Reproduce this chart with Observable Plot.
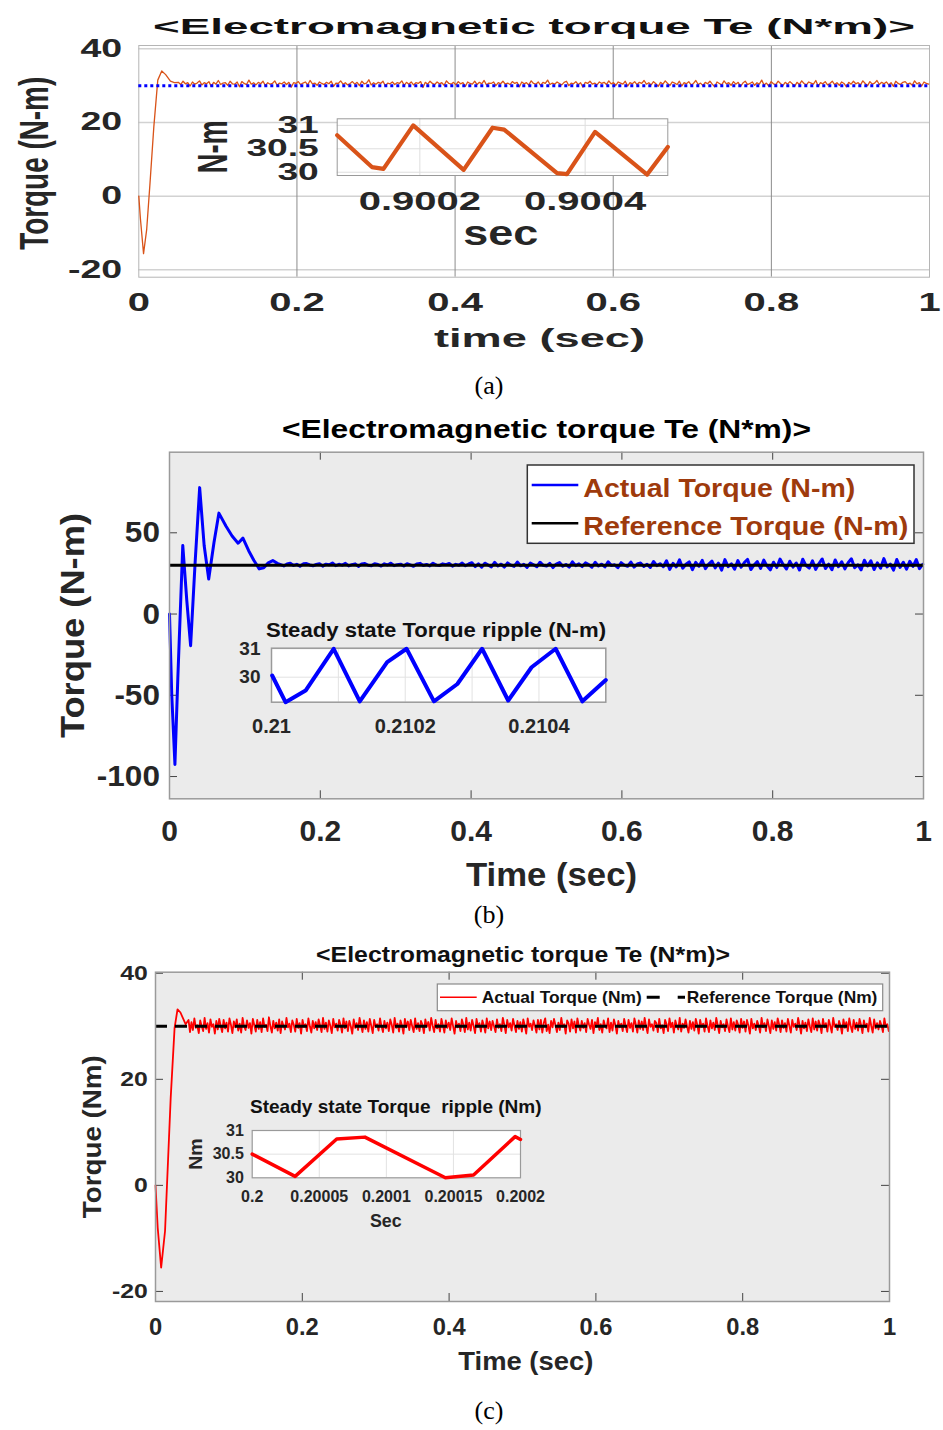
<!DOCTYPE html>
<html><head><meta charset="utf-8">
<script src="https://cdn.jsdelivr.net/npm/d3@7"></script>
<script src="https://cdn.jsdelivr.net/npm/@observablehq/plot@0.6"></script>
<style>
html,body{margin:0;padding:0;background:#fff;}
#page{position:relative;width:943px;height:1430px;overflow:hidden;background:#fff;}
</style></head><body><div id="page"></div>
<script>
// ================= DATA =================
const xTicksMain = [0, 0.2, 0.4, 0.6, 0.8, 1];
const refTorque = 30;

// ---- Panel (a) ----
const yTicksA = [-20, 0, 20, 40];
const transA_t = [0, 0.002, 0.006, 0.010, 0.014, 0.019, 0.024, 0.029, 0.034, 0.040, 0.045];
const transA_v = [0, -6, -15.6, -9, 3, 18.8, 31.5, 34.0, 33.0, 31.2, 30.8];
const steadyA_span = [0.05, 0.999];
const steadyA_v = [
30.9,30.3,31.2,30.5,30.8,29.9,31.0,30.4,30.7,31.3,30.2,30.8,30.5,31.1,29.8,30.9,30.4,31.4,30.3,30.7,
30.8,30.1,31.2,30.5,30.4,31.0,29.7,31.1,30.6,30.3,31.5,30.4,30.8,30.2,30.9,30.5,31.2,30.0,30.8,30.4,
30.6,31.3,30.1,30.7,30.5,31.0,30.3,30.9,29.6,30.8,30.6,31.1,30.3,30.7,31.0,30.2,31.4,30.5,30.7,30.1,
31.0,30.6,30.3,30.9,30.5,31.2,29.8,30.7,30.6,31.3,30.4,30.8,30.2,30.6,31.1,30.4,30.9,30.0,31.2,30.5,
30.7,31.6,30.2,30.8,30.4,30.9,30.6,31.2,29.9,30.7,30.5,31.0,30.3,30.8,30.6,31.3,30.1,30.9,30.4,31.0,
30.2,30.8,30.6,31.1,29.5,30.9,30.4,31.2,30.6,30.3,31.0,30.5,30.8,30.1,31.3,30.6,30.4,30.9,30.2,31.1,
30.5,30.8,29.8,31.0,30.6,30.4,31.2,30.3,30.9,30.5,31.4,30.2,30.7,30.6,31.0,30.0,30.8,30.5,31.2,30.4,
30.7,30.3,31.1,30.6,30.9,29.7,31.0,30.5,30.8,30.2,31.3,30.6,30.4,31.0,30.1,30.9,30.6,31.5,30.3,30.7,
30.4,31.0,30.6,30.2,30.9,31.2,30.0,30.7,30.5,31.1,30.3,30.8,29.6,30.9,30.6,31.2,30.4,30.7,30.2,31.0,
30.6,30.9,30.3,31.3,30.5,30.8,30.1,31.0,30.7,30.4,31.2,29.9,30.8,30.5,31.1,30.3,30.9,30.6,31.4,30.4,
30.8,30.2,31.1,30.5,29.8,30.9,30.4,31.3,30.6,30.1,31.0,30.7,30.3,31.2,29.9,30.8,30.5,31.1,30.2,30.6,
31.4,30.3,30.7,30.0,30.9,30.5,31.2,30.4,29.7,31.0,30.6,30.2,31.3,30.5,30.8,30.1,31.1,30.4,30.9,29.8,
30.7,31.2,30.3,30.6,31.0,30.1,30.8,30.4,31.5,30.2,30.7,29.9,31.1,30.5,30.3,31.2,30.6,30.0,30.9,30.4,
31.1,30.5,29.8,30.9,30.3,31.3,30.6,30.2,31.0,30.7,30.4,31.4,29.9,30.8,30.5,31.1,30.2,30.6,31.2,30.3,
30.8,30.1,31.0,30.6,29.7,30.9,30.4,31.2,30.5,30.8,30.2,31.3,30.6,30.0,31.1,30.4,30.7,31.4,30.3,30.9,
30.5,31.0,30.2,30.8,29.8,31.2,30.6,30.3,30.9,31.1,30.4,30.7,30.1,31.3,30.5,30.8,29.9,31.0,30.6,30.4];
const insetA_t = [0.9001,0.900142,0.900156,0.900192,0.900253,0.900288,0.900302,0.900366,0.900378,0.900412,0.900475,0.9005];
const insetA_v = [30.79,30.11,30.07,31.0,30.05,30.95,30.91,29.98,29.96,30.86,29.95,30.54];
const insetA_xTicks = [0.9002, 0.9004];
const insetA_yTicks = [30, 30.5, 31];

// ---- Panel (b) ----
const yTicksB = [-100, -50, 0, 50];
const transB_t = [0,0.003,0.0072,0.011,0.0176,0.023,0.028,0.034,0.040,0.046,0.052,0.059,0.0655,0.075,0.083,0.091,0.0974,0.105,0.112,0.119,0.125,0.131,0.137];
const transB_v = [0,-50,-92.6,-40,42.2,8,-19.5,32,77.8,42,21.6,44,62.1,54,48,43.6,46.7,39,33,27.8,28.5,31.5,32.9];
const steadyB_span = [0.143, 0.999];
const steadyB_v = [
31.2,30.4,29.6,30.8,31.3,29.9,30.6,29.4,30.9,31.1,30.2,29.7,30.5,31.0,29.5,30.7,30.3,31.4,29.8,30.6,
30.1,31.2,29.6,30.4,30.9,29.3,30.8,31.1,30.0,29.7,31.0,30.5,29.5,30.9,30.2,31.3,29.8,30.4,30.7,29.6,
31.0,30.3,29.4,30.8,31.2,29.9,30.5,29.6,31.3,30.1,29.8,30.9,30.4,31.1,29.5,30.6,30.0,31.4,29.7,30.8,
31.6,29.2,30.9,28.8,31.3,30.2,29.0,31.8,29.6,30.7,28.9,31.5,30.1,29.3,32.0,29.7,30.6,28.7,31.4,30.3,
29.1,31.9,30.0,29.5,31.2,28.6,30.8,31.7,29.4,30.5,28.9,32.1,29.8,30.9,29.2,31.5,30.4,28.8,31.8,29.6,
30.7,29.0,32.2,29.9,30.3,28.5,31.6,30.1,29.4,32.0,28.9,30.8,31.4,29.3,30.6,28.7,32.3,29.8,31.0,29.1,
32.8,27.5,31.2,29.0,33.4,28.2,30.6,32.1,27.3,31.8,29.4,33.0,27.9,30.8,32.6,28.4,31.3,27.0,33.5,29.2,
30.9,27.6,32.9,28.8,31.7,33.6,27.4,30.2,32.3,28.1,33.2,29.5,27.2,31.9,28.6,33.8,30.4,27.7,32.5,28.9,
31.4,27.1,33.7,29.8,28.3,32.7,27.5,31.1,33.9,28.0,30.7,27.3,33.3,29.1,32.2,27.8,31.6,34.0,28.5,30.3,
27.2,33.1,29.6,32.8,27.4,31.5,28.2,34.1,29.0,30.8,27.0,33.6,28.7,31.9,27.6,32.4,29.3,33.5,27.9,30.6];
const insetB_t = [0.210001,0.210021,0.210051,0.210093,0.210132,0.210173,0.210202,0.210243,0.210278,0.210315,0.210354,0.210389,0.210425,0.210465,0.2105];
const insetB_v = [30.06,29.12,29.53,31.0,29.15,30.53,31.0,29.15,29.76,31.0,29.18,30.35,31.0,29.15,29.9];
const insetB_xTicks = [0.21, 0.2102, 0.2104];
const insetB_grid = [0.2101, 0.2102, 0.2103, 0.2104];
const insetB_yTicks = [30, 31];

// ---- Panel (c) ----
const yTicksC = [-20, 0, 20, 40];
const transC_t = [0, 0.003, 0.0077, 0.013, 0.0207, 0.026, 0.030, 0.034, 0.041];
const transC_v = [0, -8, -15.5, -8.6, 16.5, 29.7, 33.2, 32.6, 30.4];
const steadyC_span = [0.045, 0.999];
const steadyC_v = [
31.2,28.9,30.8,29.3,31.5,29.7,30.2,28.7,31.1,30.0,29.1,31.6,29.5,30.6,28.8,31.3,29.9,30.4,28.6,31.0,
29.4,31.4,30.1,28.9,31.2,29.6,30.7,29.0,31.5,30.3,28.7,30.9,29.8,31.3,29.2,30.5,28.8,31.6,30.0,29.3,
31.1,29.7,30.6,28.6,31.4,30.2,29.0,31.2,29.5,30.8,28.9,31.5,29.9,30.3,29.1,31.7,30.0,28.8,31.0,29.6,
30.7,29.2,31.3,28.7,30.9,30.1,29.4,31.6,29.8,30.5,28.9,31.1,30.3,29.0,31.4,29.7,30.6,28.6,31.2,29.9,
30.4,29.1,31.5,30.0,28.8,31.0,29.6,30.8,29.3,31.3,30.2,28.9,31.6,29.5,30.7,29.0,31.1,30.1,28.7,31.4,
29.8,30.5,29.2,31.2,30.3,28.8,31.5,29.6,30.9,29.1,31.0,30.0,28.6,31.3,29.7,30.6,29.3,31.6,30.2,28.9,
31.1,29.5,30.8,29.0,31.4,30.1,28.7,31.2,29.9,30.4,29.2,31.5,30.0,28.9,31.0,29.6,30.7,29.1,31.3,30.3,
28.8,31.6,29.7,30.5,29.0,31.1,30.2,28.6,31.4,29.8,30.9,29.3,31.2,30.0,28.9,31.5,29.5,30.6,29.1,31.0,
30.3,28.7,31.3,29.9,30.8,29.2,31.6,30.1,28.9,31.2,29.6,30.4,29.0,31.4,30.2,28.8,31.1,29.7,30.7,29.3,
31.5,30.0,28.6,31.0,29.8,30.5,29.1,31.3,30.3,28.9,31.6,29.4,30.7,29.2,31.2,30.1,28.7,31.4,29.9,30.6,
29.0,31.1,30.2,28.8,31.5,29.6,30.9,29.3,31.0,30.0,28.9,31.3,29.7,30.4,29.1,31.6,30.3,28.7,31.2,29.8,
30.6,29.2,31.4,30.1,28.9,31.0,29.5,30.8,29.0,31.3,30.2,28.6,31.5,29.9,30.5,29.3,31.1,30.0,28.8,31.2,
29.4,31.2,28.8,30.6,31.5,29.1,30.3,28.7,31.0,29.8,31.4,30.2,28.9,30.7,29.3,31.6,29.9,30.4,28.6,31.1,
30.5,29.0,31.3,29.6,30.9,28.8,31.5,30.1,29.2,31.0,29.7,30.6,28.9,31.4,30.3,29.5,31.2,28.7,30.8,29.9,
31.6,29.3,30.4,28.8,31.1,30.0,29.6,31.5,28.9,30.7,29.2,31.3,30.2,28.6,31.0,29.8,30.5,29.1,31.4,30.1,
28.9,31.2,29.7,30.6,29.0,31.5,30.3,28.8,31.1,29.5,30.9,29.3,31.6,30.0,28.7,31.3,29.9,30.4,29.2,31.0,
30.6,28.9,31.4,29.6,30.2,28.7,31.2,30.4,29.1,31.5,29.8,30.7,28.8,31.1,30.1,29.4,31.6,29.0,30.5,29.7,
31.3,30.0,28.8,31.0,29.5,30.8,29.2,31.4,30.3,28.6,31.2,29.9,30.5,29.0,31.5,30.1,28.9,31.1,29.6,30.7,
29.3,31.6,30.2,28.7,31.0,29.8,30.4,29.1,31.3,30.0,28.9,31.5,29.4,30.8,29.2,31.1,30.3,28.8,31.4,29.7,
30.9,29.0,31.2,30.1,28.6,31.4,29.6,30.5,29.3,31.0,30.2,28.8,31.6,29.8,30.6,29.1,31.3,30.0,28.7,31.1,
29.5,30.8,29.2,31.5,30.4,28.9,31.1,29.7,30.6,29.0,31.4,30.1,28.8,31.2,29.9,30.5,29.3,31.6,30.2,28.6,
31.0,29.6,30.7,29.1,31.3,30.0,28.9,31.5,29.4,30.9,29.2,31.1,30.3,28.7,31.4,29.8,30.6,29.0,31.2,30.1,
28.8,31.6,29.9,30.4,29.3,31.0,30.2,28.6,31.3,29.7,30.8,29.1,31.5,30.0,28.9,31.2,29.5,30.7,29.2,31.4,
30.3,28.7,31.1,29.8,30.5,29.0,31.6,30.1,28.8,31.3,29.6,30.6,29.4,31.0,30.2,28.9,31.5,29.9,30.4,29.1];
const insetC_t = [0.2, 0.200032, 0.200063, 0.200084, 0.200144, 0.200165, 0.200196, 0.2002];
const insetC_v = [30.5, 30.03, 30.82, 30.86, 30.0, 30.06, 30.87, 30.81];
const insetC_xTicks = [0.2, 0.20005, 0.2001, 0.20015, 0.2002];
const insetC_grid = [0.20005, 0.2001, 0.20015];
const insetC_yTicks = [30, 30.5, 31];

// ================= HELPERS =================
const page = document.getElementById("page");
const FONT = "'Liberation Sans', Arial, sans-serif";
function series(tT, vT, span, vS) {
  const out = tT.map((t, i) => ({t, v: vT[i]}));
  const step = (span[1] - span[0]) / (vS.length - 1);
  vS.forEach((v, i) => out.push({t: span[0] + i * step, v}));
  return out;
}
function pairs(ts, vs) { return ts.map((t, i) => ({t, v: vs[i]})); }
function place(el, left, top) {
  el.style.position = "absolute"; el.style.left = left + "px"; el.style.top = top + "px";
  page.appendChild(el); return el;
}
function stretch(t, f) {
  if (f === 1) return;
  const w = t.getComputedTextLength();
  t.setAttribute("textLength", w * f);
  t.setAttribute("lengthAdjust", "spacingAndGlyphs");
}
function stretchTicks(svg, fx, fy) {
  svg.querySelectorAll('g[aria-label^="x-axis"] text').forEach(t => stretch(t, fx));
  svg.querySelectorAll('g[aria-label^="y-axis"] text').forEach(t => stretch(t, fy));
}
const baseStyle = (size) => ({background: "transparent", fontFamily: FONT, fontWeight: "bold", fontSize: size + "px", color: "#262626", overflow: "visible"});
const fmt = d => String(d);

// ================= PANEL (a) =================
const dataA = series(transA_t, transA_v, steadyA_span, steadyA_v);
const plotA = Plot.plot({
  width: 943, height: 330, marginLeft: 138.3, marginRight: 14, marginTop: 45, marginBottom: 53.3,
  x: {domain: [0, 1]}, y: {domain: [-22, 40.9]},
  style: baseStyle(25),
  marks: [
    Plot.ruleY(yTicksA, {stroke: "#d2d2d2", strokeWidth: 1.5}),
    Plot.ruleX(xTicksMain.slice(1, -1), {stroke: "#8c8c8c", strokeWidth: 1}),
    Plot.frame({stroke: "#b5b5b5"}),
    Plot.line(dataA, {x: "t", y: "v", stroke: "#D95319", strokeWidth: 1.3}),
    Plot.ruleY([refTorque], {stroke: "#0000ff", strokeWidth: 3, strokeDasharray: "3,3"}),
    Plot.axisX({ticks: xTicksMain, tickFormat: fmt, tickSize: 0, tickPadding: 16.5, label: null, fontSize: 25}),
    Plot.axisY({ticks: yTicksA, tickFormat: fmt, tickSize: 0, tickPadding: 16.6, label: null, fontSize: 25})
  ]
});
place(plotA, 0, 0); stretchTicks(plotA, 1.6, 1.5);

const insetA = Plot.plot({
  width: 460, height: 145, marginLeft: 106.7, marginRight: 22.7, marginTop: 8.3, marginBottom: 80,
  x: {domain: [0.9001, 0.9005]}, y: {domain: [29.93, 31.14]},
  style: baseStyle(24),
  marks: [
    Plot.frame({fill: "white"}),
    Plot.ruleX(insetA_xTicks, {stroke: "#dedede"}),
    Plot.ruleY(insetA_yTicks, {stroke: "#dedede"}),
    Plot.frame({stroke: "#9a9a9a"}),
    Plot.line(pairs(insetA_t, insetA_v), {x: "t", y: "v", stroke: "#D95319", strokeWidth: 4.2}),
    Plot.axisX({ticks: insetA_xTicks, tickFormat: fmt, tickSize: 0, tickPadding: 17.2, label: null, fontSize: 25}),
    Plot.axisY({ticks: insetA_yTicks, tickFormat: fmt, tickSize: 0, tickPadding: 18.4, label: null, fontSize: 24})
  ]
});
place(insetA, 230, 110); stretchTicks(insetA, 1.6, 1.55);

// ================= PANEL (b) =================
const dataB = series(transB_t, transB_v, steadyB_span, steadyB_v);
const fwB = 943 - 169 - 20, fhB = 460 - 51.7 - 61.7;
const plotB = Plot.plot({
  width: 943, height: 460, marginLeft: 169, marginRight: 20, marginTop: 51.7, marginBottom: 61.7,
  x: {domain: [0, 1]}, y: {domain: [-113.7, 99.6]},
  style: baseStyle(30),
  marks: [
    Plot.frame({fill: "#ebebeb"}),
    Plot.ruleX(xTicksMain.slice(1, -1), {stroke: "#444", insetBottom: fhB - 8}),
    Plot.ruleX(xTicksMain.slice(1, -1), {stroke: "#444", insetTop: fhB - 8}),
    Plot.ruleY(yTicksB, {stroke: "#444", insetRight: fwB - 8}),
    Plot.ruleY(yTicksB, {stroke: "#444", insetLeft: fwB - 8}),
    Plot.line(dataB, {x: "t", y: "v", stroke: "#0000ff", strokeWidth: 3}),
    Plot.ruleY([refTorque], {stroke: "#000", strokeWidth: 3}),
    Plot.frame({stroke: "#9a9a9a", strokeWidth: 1.5}),
    Plot.axisX({ticks: xTicksMain, tickFormat: fmt, tickSize: 0, tickPadding: 21, label: null, fontSize: 30}),
    Plot.axisY({ticks: yTicksB, tickFormat: fmt, tickSize: 0, tickPadding: 9.6, label: null, fontSize: 30})
  ]
});
place(plotB, 0, 400); stretchTicks(plotB, 1.0, 1.05);

const insetB = Plot.plot({
  width: 400, height: 130, marginLeft: 41, marginRight: 24.7, marginTop: 37.7, marginBottom: 38.3,
  x: {domain: [0.21, 0.2105]}, y: {domain: [29.12, 31.02]},
  style: baseStyle(20),
  marks: [
    Plot.frame({fill: "white"}),
    Plot.ruleX(insetB_grid, {stroke: "#e2e2e2"}),
    Plot.ruleY(insetB_yTicks, {stroke: "#e2e2e2"}),
    Plot.frame({stroke: "#9a9a9a", strokeWidth: 1.5}),
    Plot.line(pairs(insetB_t, insetB_v), {x: "t", y: "v", stroke: "#0000ff", strokeWidth: 4}),
    Plot.axisX({ticks: insetB_xTicks, tickFormat: fmt, tickSize: 0, tickPadding: 17, label: null, fontSize: 20}),
    Plot.axisY({ticks: insetB_yTicks, tickFormat: fmt, tickSize: 0, tickPadding: 11, label: null, fontSize: 19})
  ]
});
place(insetB, 230, 610);

// ================= PANEL (c) =================
const dataC = series(transC_t, transC_v, steadyC_span, steadyC_v);
const fwC = 943 - 155 - 54, fhC = 420 - 41.7 - 49;
const plotC = Plot.plot({
  width: 943, height: 420, marginLeft: 155, marginRight: 54, marginTop: 41.7, marginBottom: 49,
  x: {domain: [0, 1]}, y: {domain: [-21.9, 40.2]},
  style: baseStyle(23),
  marks: [
    Plot.frame({fill: "#ebebeb"}),
    Plot.ruleX(xTicksMain.slice(1, -1), {stroke: "#444", insetBottom: fhC - 8}),
    Plot.ruleX(xTicksMain.slice(1, -1), {stroke: "#444", insetTop: fhC - 8}),
    Plot.ruleY(yTicksC, {stroke: "#444", insetRight: fwC - 8}),
    Plot.ruleY(yTicksC, {stroke: "#444", insetLeft: fwC - 8}),
    Plot.line(dataC, {x: "t", y: "v", stroke: "#ff0000", strokeWidth: 1.8}),
    Plot.ruleY([refTorque], {stroke: "#000", strokeWidth: 3, strokeDasharray: "12,8"}),
    Plot.frame({stroke: "#9a9a9a", strokeWidth: 1.5}),
    Plot.axisX({ticks: xTicksMain, tickFormat: fmt, tickSize: 0, tickPadding: 17.6, label: null, fontSize: 23}),
    Plot.axisY({ticks: yTicksC, tickFormat: fmt, tickSize: 0, tickPadding: 7.7, label: null, fontSize: 21})
  ]
});
place(plotC, 0, 930); stretchTicks(plotC, 1.03, 1.18);

const insetC = Plot.plot({
  width: 350, height: 95, marginLeft: 51.7, marginRight: 30, marginTop: 15, marginBottom: 32.7,
  x: {domain: [0.2, 0.2002]}, y: {domain: [30, 31]},
  style: baseStyle(16),
  marks: [
    Plot.frame({fill: "white"}),
    Plot.ruleX(insetC_grid, {stroke: "#e2e2e2"}),
    Plot.ruleY([30.5], {stroke: "#e2e2e2"}),
    Plot.frame({stroke: "#9a9a9a", strokeWidth: 1.2}),
    Plot.line(pairs(insetC_t, insetC_v), {x: "t", y: "v", stroke: "#ff0000", strokeWidth: 3.5}),
    Plot.axisX({ticks: insetC_xTicks, tickFormat: fmt, tickSize: 0, tickPadding: 13, label: null, fontSize: 16}),
    Plot.axisY({ticks: insetC_yTicks, tickFormat: fmt, tickSize: 0, tickPadding: 8.4, label: null, fontSize: 16})
  ]
});
place(insetC, 200, 1115);

// ================= TEXT OVERLAY =================
const over = d3.create("svg").attr("width", 943).attr("height", 1430);
function label(s, x, y, size, len, o = {}) {
  let tr = `translate(${x},${y})`;
  if (o.rotate) tr += ` rotate(${o.rotate})`;
  if (o.thick) tr += ` scale(1,${o.thick})`;
  const g = over.append("g").attr("transform", tr);
  const t = g.append("text").text(s)
    .attr("text-anchor", o.anchor || "middle")
    .attr("font-family", o.family || FONT)
    .attr("font-weight", o.weight || "bold")
    .attr("font-size", size)
    .attr("fill", o.fill || "#262626")
    .style("white-space", "pre");
  if (len) t.attr("textLength", len).attr("lengthAdjust", "spacingAndGlyphs");
}
const title = "<Electromagnetic torque Te (N*m)>";
const SERIF = "'Liberation Serif', 'DejaVu Serif', serif";
// (a)
label(title, 534, 33.5, 22, 762, {fill: "#111"});
label("time (sec)", 539.5, 346.5, 25, 211);
label("Torque (N-m)", 48, 163.3, 28, 173, {rotate: -90, thick: 1.45});
label("sec", 500.7, 245, 35, 75);
label("N-m", 226.7, 146.7, 29, 53, {rotate: -90, thick: 1.45});
label("(a)", 489, 394, 26, 0, {family: SERIF, weight: "normal", fill: "#000"});
// (b)
label(title, 546.5, 438.3, 26, 529, {fill: "#000"});
label("Time (sec)", 551.5, 886, 34, 171);
label("Torque (N-m)", 84, 625.5, 33, 225, {rotate: -90});
over.append("rect").attr("x", 527.3).attr("y", 465).attr("width", 386.7).attr("height", 78.3)
  .attr("fill", "white").attr("stroke", "#333").attr("stroke-width", 1.5);
over.append("line").attr("x1", 531.7).attr("x2", 578.3).attr("y1", 485).attr("y2", 485).attr("stroke", "#0000ff").attr("stroke-width", 2.5);
over.append("line").attr("x1", 531.7).attr("x2", 578.3).attr("y1", 523.3).attr("y2", 523.3).attr("stroke", "#000").attr("stroke-width", 2.5);
label("Actual Torque (N-m)", 583.3, 496.7, 25.6, 272, {anchor: "start", fill: "#9E3A0C"});
label("Reference Torque (N-m)", 583.3, 535, 25.6, 325, {anchor: "start", fill: "#9E3A0C"});
label("Steady state Torque ripple (N-m)", 436, 636.7, 20, 340, {fill: "#111"});
label("(b)", 489, 923, 26, 0, {family: SERIF, weight: "normal", fill: "#000"});
// (c)
label(title, 523.1, 961.7, 22, 414, {fill: "#111"});
label("Time (sec)", 525.8, 1370, 25.6, 135);
label("Torque (Nm)", 100.5, 1136.7, 25, 163, {rotate: -90});
over.append("rect").attr("x", 437.3).attr("y", 984).attr("width", 445.4).attr("height", 26.7)
  .attr("fill", "white").attr("stroke", "#8a8a8a").attr("stroke-width", 1.2);
over.append("line").attr("x1", 440).attr("x2", 476.7).attr("y1", 997.3).attr("y2", 997.3).attr("stroke", "#ff0000").attr("stroke-width", 1.5);
over.append("line").attr("x1", 646.7).attr("x2", 685).attr("y1", 997.3).attr("y2", 997.3).attr("stroke", "#000").attr("stroke-width", 3).attr("stroke-dasharray", "13,18");
label("Actual Torque (Nm)", 481.7, 1003.3, 16.3, 160, {anchor: "start", fill: "#111"});
label("Reference Torque (Nm)", 686.7, 1003.3, 16.3, 190.7, {anchor: "start", fill: "#111"});
label("Steady state Torque  ripple (Nm)", 395.8, 1112.7, 17.7, 291.7, {fill: "#111"});
label("Sec", 385.8, 1226.7, 18.6, 31.7);
label("Nm", 201.7, 1154, 18.6, 31.7, {rotate: -90});
label("(c)", 489, 1419, 26, 0, {family: SERIF, weight: "normal", fill: "#000"});

place(over.node(), 0, 0);
</script></body></html>
